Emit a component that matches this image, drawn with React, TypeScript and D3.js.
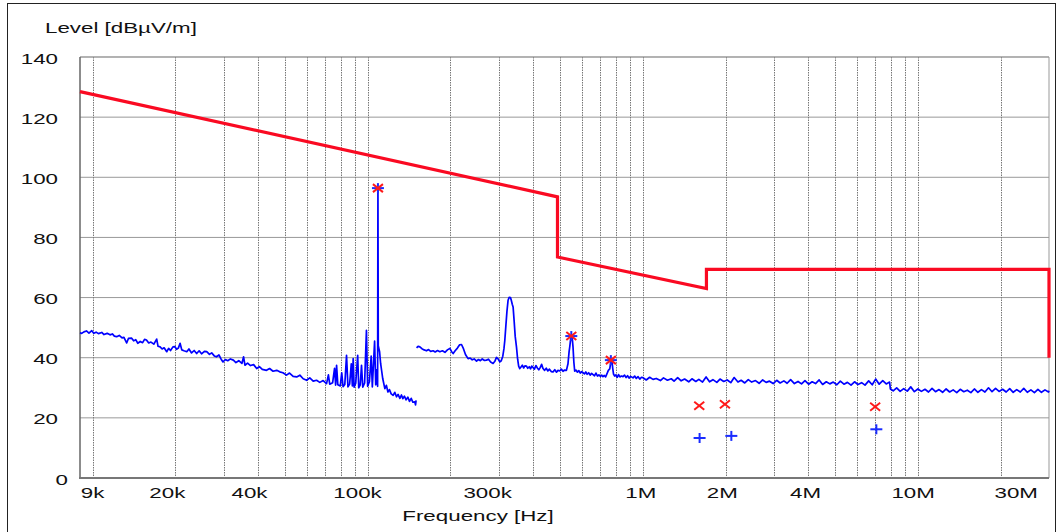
import * as d3 from "d3";

// Measured trace, 9 kHz .. 150 kHz (kHz, dBµV/m)
const lowBand: [number, number][] = [
  [9.0, 48.3], [9.13, 48.1], [9.3, 48.6], [9.5, 48.9], [9.7, 48.2], [9.93, 49.0],
  [10.1, 48.1], [10.3, 48.5], [10.5, 48.0], [10.8, 48.4], [11.0, 47.7], [11.3, 48.1],
  [11.57, 47.6], [11.8, 47.9], [12.0, 47.2], [12.23, 47.0], [12.5, 47.4], [12.8, 46.6],
  [13.0, 46.8], [13.3, 44.9], [13.5, 46.4], [13.87, 46.5], [14.1, 45.6], [14.35, 46.0],
  [14.6, 44.8], [14.9, 45.4], [15.2, 45.0], [15.45, 46.1], [15.7, 45.9], [16.0, 44.9],
  [16.3, 45.2], [16.7, 44.5], [17.1, 46.2], [17.3, 43.8], [17.6, 43.6], [17.9, 42.9],
  [18.2, 43.3], [18.6, 42.0], [18.9, 43.1], [19.2, 42.4], [19.6, 43.6], [19.9, 43.7],
  [20.2, 42.8], [20.5, 43.2], [20.8, 44.8], [21.1, 42.6], [21.5, 42.3], [22.0, 42.0],
  [22.4, 42.9], [22.9, 41.6], [23.4, 42.4], [23.9, 41.4], [24.4, 42.3], [24.9, 41.3],
  [25.5, 42.1], [26.0, 42.0], [26.6, 41.1], [27.1, 41.6], [27.7, 40.6], [28.2, 40.3],
  [28.8, 40.9], [29.3, 39.6], [29.8, 38.6], [30.4, 39.4], [31.0, 39.0], [31.7, 39.6],
  [32.5, 39.2], [33.2, 38.4], [34.0, 39.0], [34.9, 38.1], [35.4, 40.3], [35.8, 37.5],
  [36.6, 38.2], [37.5, 37.4], [38.5, 37.7], [39.5, 36.4], [40.4, 37.0], [41.4, 36.1],
  [42.9, 35.8], [44.0, 36.4], [45.3, 35.5], [46.7, 35.8], [47.9, 35.3], [49.2, 35.0],
  [50.7, 34.2], [52.0, 34.9], [53.6, 33.8], [55.2, 33.6], [56.7, 34.2], [58.3, 33.0],
  [60.0, 32.5], [61.6, 33.3], [63.4, 32.2], [65.2, 32.5], [67.0, 31.8], [68.9, 32.4],
  [70.9, 31.4], [72.0, 34.3], [72.8, 31.2], [74.6, 31.7], [75.8, 36.5], [76.5, 30.9],
  [77.1, 37.5], [77.9, 31.0], [79.5, 30.6], [80.5, 35.0], [81.4, 30.4], [82.6, 31.1],
  [83.8, 40.8], [84.8, 30.3], [86.0, 31.2], [87.2, 38.0], [88.0, 30.6], [88.6, 39.7],
  [89.3, 30.2], [90.5, 31.5], [92.0, 40.8], [92.8, 30.0], [94.0, 31.0], [95.0, 37.5],
  [96.0, 30.2], [97.5, 31.6], [99.0, 49.1], [100.0, 30.5], [101.5, 32.0], [103.0, 40.5],
  [104.0, 30.3], [106.0, 45.5], [107.0, 31.0], [107.8, 36.0], [108.7, 30.5], [109.0, 96.5],
  [109.3, 44.0], [110.5, 42.0], [111.5, 38.0], [112.5, 35.5], [113.5, 33.0], [115.5, 29.7],
  [117.0, 30.8], [118.5, 28.6], [120.0, 29.4], [121.8, 28.0], [123.8, 27.5], [125.5, 28.5],
  [127.3, 27.0], [129.0, 27.8], [131.0, 26.5], [132.7, 27.6], [134.3, 26.4], [136.0, 27.2],
  [138.0, 26.0], [140.0, 26.9], [142.0, 25.5], [144.0, 26.5], [146.0, 25.2], [148.4, 25.3],
  [149.3, 24.3], [150.0, 25.8],
];

// Measured trace, 150 kHz .. 30 MHz (kHz, dBµV/m)
const highBand: [number, number][] = [
  [150.6, 43.3], [152.5, 43.8], [154.8, 43.6], [157.5, 43.0], [160.5, 42.6], [163.7, 42.3],
  [166.5, 42.7], [169.5, 42.1], [173.0, 42.3], [176.0, 41.9], [179.5, 42.4], [183.0, 42.0],
  [187.0, 42.3], [191.0, 41.8], [195.0, 42.6], [199.0, 43.1], [202.0, 42.0], [204.6, 41.4],
  [208.0, 42.3], [212.0, 43.2], [216.0, 44.3], [219.4, 44.4], [223.0, 43.0], [227.0, 41.0],
  [231.8, 39.7], [236.0, 39.9], [240.0, 39.3], [244.0, 39.6], [248.8, 38.9], [253.0, 39.4],
  [257.0, 39.0], [261.0, 39.6], [266.0, 39.1], [270.5, 39.2], [275.0, 39.5], [280.0, 38.6],
  [285.8, 38.1], [290.0, 38.8], [294.0, 40.1], [298.0, 39.6], [302.3, 38.6], [306.0, 39.0],
  [310.0, 40.5], [313.0, 43.0], [315.3, 45.8], [318.0, 50.5], [321.0, 55.5], [324.0, 59.1],
  [327.0, 60.1], [330.6, 60.0], [333.0, 59.0], [335.5, 57.8], [337.9, 56.9], [341.0, 52.0],
  [344.0, 47.0], [347.6, 43.6], [351.0, 39.5], [354.0, 37.2], [357.3, 36.4], [361.0, 36.9],
  [365.0, 37.5], [369.0, 36.6], [373.0, 37.3], [378.0, 37.2], [382.0, 36.5], [387.0, 37.0],
  [391.0, 36.3], [395.0, 37.2], [399.0, 36.8], [404.0, 36.2], [409.0, 37.4], [414.0, 36.6],
  [419.0, 36.0], [424.0, 36.7], [429.0, 37.8], [434.0, 36.4], [440.0, 35.8], [446.0, 36.5],
  [452.0, 35.6], [458.0, 36.2], [465.0, 35.4], [472.0, 35.3], [479.0, 36.0], [486.0, 35.2],
  [492.0, 35.8], [499.5, 35.6], [506.0, 36.2], [513.0, 35.5], [520.0, 35.9], [528.0, 35.8],
  [535.0, 38.0], [540.0, 42.0], [543.0, 43.6], [547.0, 46.2], [551.0, 47.2], [555.0, 46.0],
  [558.0, 43.6], [562.0, 38.5], [566.0, 35.5], [572.0, 35.9], [579.0, 35.2], [586.0, 35.7],
  [593.0, 34.9], [600.0, 35.4], [607.0, 35.0], [614.0, 34.6], [621.0, 35.3], [628.0, 34.5],
  [636.0, 35.0], [644.0, 34.2], [652.0, 34.8], [660.0, 34.4], [668.0, 34.0], [676.0, 34.9],
  [685.0, 33.9], [693.0, 34.3], [702.0, 33.8], [710.0, 34.2], [717.0, 33.7], [725.0, 34.1],
  [733.0, 33.6], [741.0, 34.6], [750.0, 35.8], [759.0, 36.3], [764.0, 38.0], [768.0, 39.3],
  [773.6, 38.6], [778.0, 36.5], [783.0, 34.6], [791.0, 33.9], [799.0, 34.3], [808.0, 33.5],
  [817.0, 34.4], [826.0, 33.6], [837.0, 33.9], [848.0, 33.7], [859.0, 34.2], [870.0, 33.4],
  [881.0, 34.0], [892.0, 33.2], [904.0, 33.8], [922.0, 33.3], [935.0, 33.9], [948.0, 33.1],
  [962.0, 33.7], [976.0, 32.9], [990.0, 33.5], [1000, 33.4], [1030, 32.6], [1060, 33.5],
  [1090, 32.8], [1120, 33.1], [1160, 32.4], [1190, 33.3], [1230, 32.5], [1270, 33.0],
  [1300, 32.2], [1340, 33.4], [1380, 32.3], [1420, 32.9], [1470, 32.0], [1510, 33.0],
  [1560, 32.1], [1600, 32.8], [1650, 31.9], [1700, 33.6], [1750, 32.0], [1800, 32.7],
  [1860, 31.8], [1910, 32.9], [1970, 32.1], [2030, 32.6], [2090, 31.7], [2150, 33.4],
  [2220, 31.9], [2280, 32.5], [2350, 31.6], [2420, 32.7], [2490, 31.9], [2570, 32.4],
  [2650, 31.5], [2730, 32.6], [2810, 31.8], [2890, 32.2], [2980, 31.4], [3070, 32.5],
  [3160, 31.6], [3260, 32.3], [3350, 31.5], [3450, 32.7], [3560, 31.4], [3670, 32.1],
  [3780, 31.3], [3890, 32.4], [4010, 31.2], [4130, 32.0], [4250, 31.4], [4380, 32.6],
  [4510, 31.1], [4650, 32.0], [4790, 31.3], [4930, 31.9], [5080, 31.0], [5230, 32.2],
  [5390, 31.2], [5550, 31.8], [5720, 30.9], [5890, 32.0], [6060, 31.1], [6250, 31.7],
  [6430, 30.9], [6630, 32.3], [6830, 31.0], [7030, 32.9], [7240, 31.2], [7460, 32.4],
  [7680, 31.3], [7900, 31.9], [7950, 29.6], [8140, 29.0], [8380, 30.0], [8630, 28.8],
  [8890, 29.7], [9160, 28.9], [9430, 30.3], [9720, 28.7], [10010, 29.6], [10310, 28.8],
  [10620, 29.5], [10940, 28.6], [11270, 29.8], [11600, 28.7], [11950, 29.4], [12310, 28.5],
  [12680, 29.6], [13060, 28.6], [13450, 29.3], [13860, 28.4], [14270, 29.5], [14700, 28.7],
  [15140, 29.2], [15600, 28.4], [16060, 29.6], [16540, 28.5], [17040, 29.4], [17550, 28.6],
  [18080, 30.0], [18620, 28.7], [19180, 29.8], [19750, 28.8], [20350, 29.5], [20960, 28.6],
  [21590, 29.7], [22230, 28.5], [22900, 29.4], [23590, 28.6], [24290, 29.8], [25020, 28.5],
  [25780, 29.3], [26550, 28.4], [27340, 29.5], [28160, 28.5], [29010, 29.3], [29880, 28.6],
  [30000, 29.0],
];

// Limit line (kHz, dBµV/m)
const limitFreqs = [9, 490, 490, 1705, 1705, 30000, 30000];
const limitLevels = [128.5, 93.5, 73.5, 63.0, 69.4, 69.4, 40.0];

// Final measurement markers
const qpFreqs = [109, 550, 766, 1605, 1990, 7000];
const qpLevels = [96.4, 47.2, 39.2, 24.0, 24.5, 23.7];
const avFreqs = [109, 550, 766, 1610, 2100, 7070];
const avLevels = [96.4, 47.2, 39.2, 13.3, 14.0, 16.2];

// Axis ticks
const yTicks = [0, 20, 40, 60, 80, 100, 120, 140];
const xTickLabels = ["9k", "20k", "40k", "100k", "300k", "1M", "2M", "4M", "10M", "30M"];
// where the instrument software printed each label (Hz)
const xTickLabelAt = [10e3, 18.7e3, 37.2e3, 91.9e3, 273e3, 984e3, 1.947e6, 3.91e6, 9.62e6, 22.8e6];

const W = 1059;
const H = 532;
const FONT = "'Liberation Sans', Arial, sans-serif";
const STRETCH = 1.49;

function SText(props: { x: number; y: number; anchor?: string; children: any }) {
  return (
    <text
      transform={`translate(${props.x},${props.y}) scale(${STRETCH},1)`}
      textAnchor={props.anchor ?? "middle"}
      fontSize={15}
      fontFamily={FONT}
      fill="#111"
    >
      {props.children}
    </text>
  );
}

export default function App() {
  const x = d3.scaleLog().domain([9e3, 30e6]).range([80, 1049]);
  const y = d3.scaleLinear().domain([0, 140]).range([478, 57]);

  // vertical grid: 1..9 x each decade inside the range
  const vGrid: number[] = [];
  for (const dec of [1e4, 1e5, 1e6, 1e7]) {
    for (let m = 1; m <= 9; m++) {
      const f = m * dec;
      if (f > 9e3 && f < 30e6) vGrid.push(f);
    }
  }

  const line = d3
    .line<[number, number]>()
    .x((d) => x(d[0] * 1e3))
    .y((d) => y(d[1]));

  const limitPts: [number, number][] = limitFreqs.map((f, i) => [f, limitLevels[i]]);

  return (
    <svg
      width={W}
      height={H}
      style={{ position: "absolute", left: 0, top: 0, background: "#fff" }}
    >
      <rect x={0} y={0} width={W} height={H} fill="#fff" />
      {/* outer frame */}
      <rect x={7.5} y={3.5} width={1048} height={560} fill="none" stroke="#222" strokeWidth={1} />

      {/* horizontal grid */}
      {yTicks.map((t) => (
        <line key={`h${t}`} x1={80} x2={1049} y1={y(t)} y2={y(t)} stroke="#999" strokeWidth={1} />
      ))}
      {/* vertical grid */}
      {vGrid.map((f) => (
        <line
          key={`v${f}`}
          x1={Math.round(x(f)) + 0.5}
          x2={Math.round(x(f)) + 0.5}
          y1={57}
          y2={478}
          stroke="#777"
          strokeWidth={1}
          strokeDasharray="1.5 1"
        />
      ))}
      {/* plot frame */}
      <line x1={1049} x2={1049} y1={57} y2={478} stroke="#999" />
      <line x1={80} x2={1049} y1={57} y2={57} stroke="#999" />
      <line x1={80} x2={80} y1={57} y2={479} stroke="#666" strokeWidth={1.5} />
      <line x1={79} x2={1049} y1={478} y2={478} stroke="#777" strokeWidth={1.8} />

      {/* y labels */}
      {yTicks.map((t) => (
        <SText key={`yl${t}`} x={t === 0 ? 68 : 58} y={y(t) + 6.5} anchor="end">
          {t}
        </SText>
      ))}
      {/* x labels */}
      {xTickLabels.map((lab, i) => (
        <SText key={lab} x={x(xTickLabelAt[i])} y={497.5}>
          {lab}
        </SText>
      ))}

      <SText x={45} y={33} anchor="start">
        Level [dBµV/m]
      </SText>
      <SText x={478} y={521}>
        Frequency [Hz]
      </SText>

      {/* limit */}
      <path
        d={line(limitPts) ?? ""}
        fill="none"
        stroke="#fa0a22"
        strokeWidth={3.2}
        strokeLinejoin="miter"
      />

      {/* measured trace */}
      <path d={line(lowBand) ?? ""} fill="none" stroke="#0000ff" strokeWidth={1.7} strokeLinejoin="round" />
      <path d={line(highBand) ?? ""} fill="none" stroke="#0000ff" strokeWidth={1.7} strokeLinejoin="round" />

      {/* average markers */}
      {avFreqs.map((f, i) => {
        const cx = x(f * 1e3);
        const cy = y(avLevels[i]);
        return (
          <g key={`av${i}`} stroke="#1a2cff" strokeWidth={2}>
            <line x1={cx - 6} x2={cx + 6} y1={cy} y2={cy} />
            <line x1={cx} x2={cx} y1={cy - 5} y2={cy + 5} />
          </g>
        );
      })}
      {/* quasi-peak markers */}
      {qpFreqs.map((f, i) => {
        const cx = x(f * 1e3);
        const cy = y(qpLevels[i]);
        return (
          <g key={`qp${i}`} stroke="#ff1a1a" strokeWidth={2}>
            <line x1={cx - 5} x2={cx + 5} y1={cy - 4} y2={cy + 4} />
            <line x1={cx - 5} x2={cx + 5} y1={cy + 4} y2={cy - 4} />
          </g>
        );
      })}
    </svg>
  );
}
